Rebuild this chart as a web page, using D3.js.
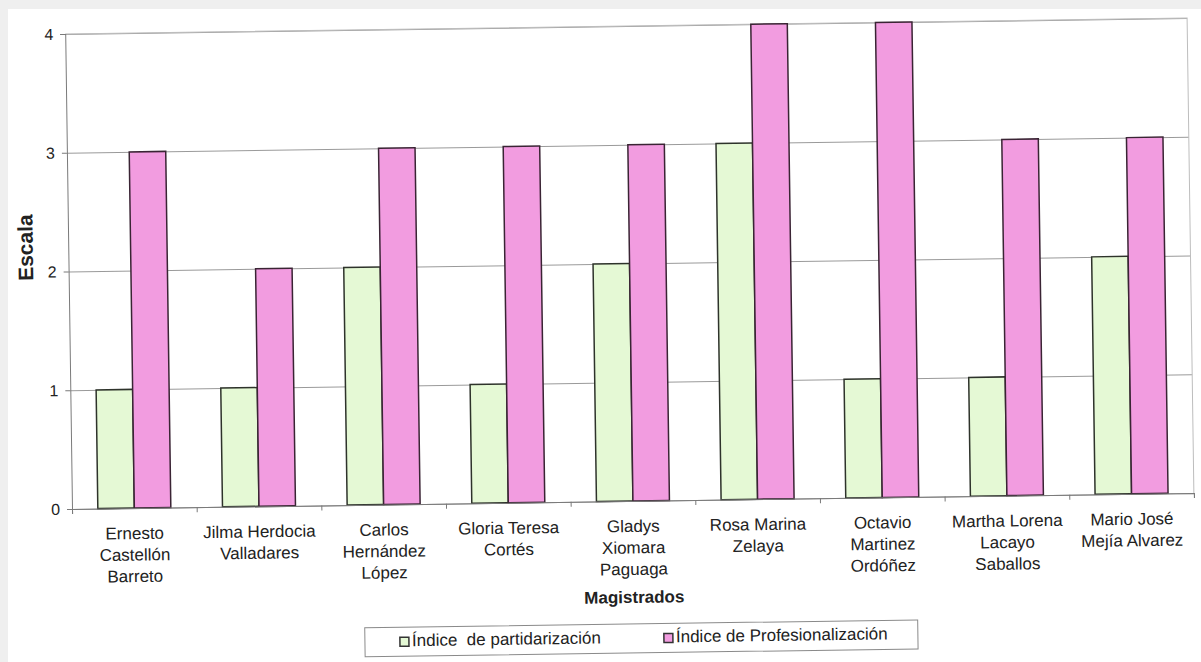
<!DOCTYPE html>
<html>
<head>
<meta charset="utf-8">
<script src="https://cdn.jsdelivr.net/npm/d3@7"></script>
<style>
  html, body { margin: 0; padding: 0; background: #efefef; }
  svg { display: block; }
  text { font-family: "Liberation Sans", Arial, sans-serif; fill: #222; }
</style>
</head>
<body>
<svg id="chart" width="1201" height="662"></svg>
<script>
// Magistrates (multi-line names) and their two indices
const magistrados = [
  "Ernesto\nCastellón\nBarreto",
  "Jilma Herdocia\nValladares",
  "Carlos\nHernández\nLópez",
  "Gloria Teresa\nCortés",
  "Gladys\nXiomara\nPaguaga",
  "Rosa Marina\nZelaya",
  "Octavio\nMartinez\nOrdóñez",
  "Martha Lorena\nLacayo\nSaballos",
  "Mario José\nMejía Alvarez"
];
const seriesNames = ["Índice  de partidarización", "Índice de Profesionalización"];
const partidarizacion = [1, 1, 2, 1, 2, 3, 1, 1, 2];
const profesionalizacion = [3, 2, 3, 3, 3, 4, 4, 3, 3];
const yTicks = [0, 1, 2, 3, 4];

const colors = ["#e5f9d5", "#f29ce0"];
const strokes = ["#2e332b", "#3a2434"];

const svg = d3.select("#chart");

// page
svg.append("rect").attr("x", 8).attr("y", 9).attr("width", 1193).attr("height", 653).attr("fill", "#ffffff");

const plot = { left: 72, top: 34, right: 1194, bottom: 509 };
const W = plot.right - plot.left, H = plot.bottom - plot.top;

// whole chart sits slightly tilted
const g = svg.append("g").attr("transform", `rotate(-0.82, ${plot.left}, ${plot.bottom})`);
const pg = g.append("g").attr("transform", `translate(${plot.left},${plot.top})`);

const x0 = d3.scaleBand().domain(magistrados).range([0, W]);
const pairW = 73;
const x1 = d3.scaleBand().domain(seriesNames)
  .range([(x0.step() - pairW) / 2, (x0.step() + pairW) / 2]);
const y = d3.scaleLinear().domain([0, 4]).range([H, 0]);

// gridlines
const grid = pg.append("g").call(d3.axisLeft(y).tickValues(yTicks).tickSize(-W).tickFormat(""));
grid.select(".domain").remove();
grid.selectAll("line").attr("stroke", "#9a9a9a").attr("stroke-width", 1);

// plot border (top and right)
pg.append("path")
  .attr("d", `M0,0H${W}V${H}`)
  .attr("fill", "none").attr("stroke", "#bdbdbd").attr("stroke-width", 1);

// bars
const rows = magistrados.map((m, i) => ({ m, vals: [partidarizacion[i], profesionalizacion[i]] }));
const grp = pg.selectAll("g.cat").data(rows).join("g").attr("class", "cat")
  .attr("transform", d => `translate(${x0(d.m)},0)`);
grp.selectAll("rect").data(d => d.vals.map((v, k) => ({ v, k })))
  .join("rect")
  .attr("x", d => x1(seriesNames[d.k]))
  .attr("y", d => y(d.v))
  .attr("width", x1.bandwidth())
  .attr("height", d => y(0) - y(d.v))
  .attr("fill", d => colors[d.k])
  .attr("stroke", d => strokes[d.k])
  .attr("stroke-width", 1.5);

// y axis
const ya = pg.append("g").call(d3.axisLeft(y).tickValues(yTicks).tickSize(5).tickPadding(7).tickFormat(d3.format("d")));
ya.select(".domain").attr("stroke", "#7a7a7a");
ya.selectAll("line").attr("stroke", "#7a7a7a");
ya.selectAll("text").attr("font-size", 16).style("fill", "#222");

// x axis: boundary ticks
const xb = d3.scaleLinear().domain([0, magistrados.length]).range([0, W]);
const xa = pg.append("g").attr("transform", `translate(0,${H})`)
  .call(d3.axisBottom(xb).ticks(magistrados.length).tickSize(5).tickFormat(""));
xa.select(".domain").attr("stroke", "#7a7a7a");
xa.selectAll("line").attr("stroke", "#7a7a7a");

// x axis: category labels
const xl = pg.append("g").attr("transform", `translate(0,${H})`)
  .call(d3.axisBottom(x0).tickSize(0).tickPadding(0));
xl.select(".domain").remove();
xl.selectAll(".tick text").each(function (d) {
  const t = d3.select(this).text(null).attr("font-size", 17).attr("dy", null).attr("y", 0);
  d.split("\n").forEach((line, i) => {
    t.append("tspan").attr("x", 0).attr("y", 31 + i * 21.5).text(line);
  });
}).style("fill", "#222");

// axis titles
g.append("text")
  .attr("transform", `translate(29,${247}) rotate(-90)`)
  .attr("text-anchor", "middle").attr("dominant-baseline", "central")
  .attr("font-size", 21).attr("font-weight", "bold")
  .text("Escala");

g.append("text")
  .attr("x", plot.left + W / 2).attr("y", 611)
  .attr("text-anchor", "middle")
  .attr("font-size", 17).attr("font-weight", "bold")
  .text("Magistrados");

// legend
const lg = g.append("g").attr("transform", "translate(363,632)");
lg.append("rect").attr("width", 553).attr("height", 29)
  .attr("fill", "#fff").attr("stroke", "#8a8a8a").attr("stroke-width", 1);
const legX = [35, 299];
seriesNames.forEach((s, k) => {
  lg.append("rect").attr("x", legX[k]).attr("y", 10).attr("width", 9).attr("height", 9)
    .attr("fill", colors[k]).attr("stroke", "#333").attr("stroke-width", 1.5);
  lg.append("text").attr("x", legX[k] + 12).attr("y", 19)
    .attr("font-size", 17).attr("xml:space", "preserve").style("white-space", "pre")
    .text(s);
});
</script>
</body>
</html>
